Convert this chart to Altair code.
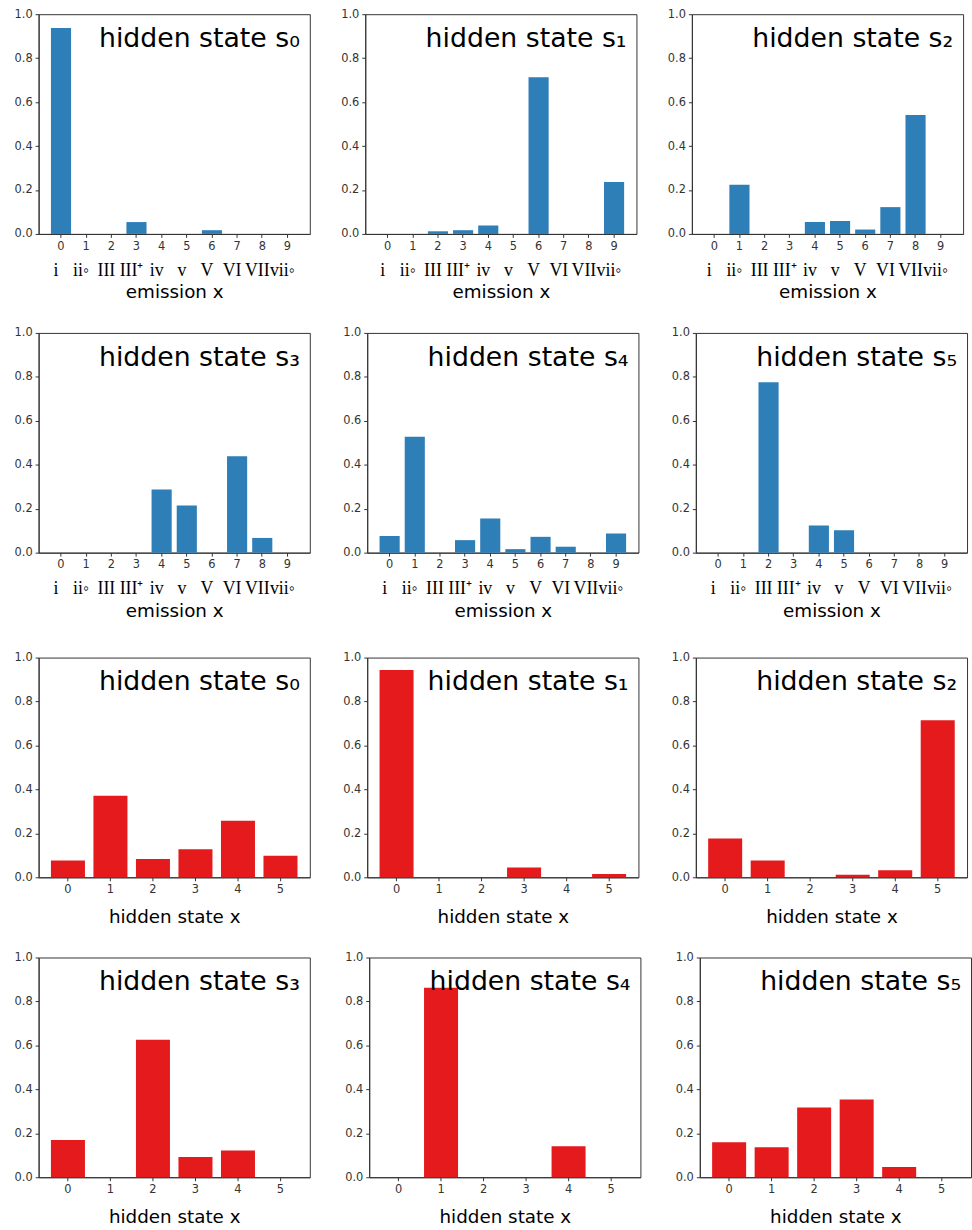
import altair as alt
import pandas as pd

# ---------------- data ----------------
EMISSION_CATS = list(range(10))
ROMAN = ["i", "ii◦", "III", "III⁺", "iv", "v", "V", "VI", "VII", "vii◦"]
STATE_CATS = list(range(6))
STATE_TITLES = ["hidden state s₀", "hidden state s₁", "hidden state s₂",
                "hidden state s₃", "hidden state s₄", "hidden state s₅"]

EMIT_S0 = [0.937, 0.0, 0.0, 0.054, 0.0, 0.0, 0.017, 0.0, 0.0, 0.0]
EMIT_S1 = [0.0, 0.0, 0.012, 0.017, 0.038, 0.0, 0.713, 0.0, 0.0, 0.236]
EMIT_S2 = [0.0, 0.224, 0.0, 0.0, 0.054, 0.059, 0.020, 0.122, 0.541, 0.0]
EMIT_S3 = [0.0, 0.0, 0.0, 0.0, 0.287, 0.215, 0.0, 0.439, 0.067, 0.0]
EMIT_S4 = [0.076, 0.528, 0.0, 0.057, 0.155, 0.016, 0.072, 0.027, 0.0, 0.087]
EMIT_S5 = [0.0, 0.0, 0.776, 0.0, 0.124, 0.102, 0.0, 0.0, 0.0, 0.0]

TRANS_S0 = [0.077, 0.371, 0.083, 0.128, 0.257, 0.098]
TRANS_S1 = [0.943, 0.0, 0.0, 0.045, 0.0, 0.015]
TRANS_S2 = [0.177, 0.077, 0.0, 0.012, 0.032, 0.715]
TRANS_S3 = [0.170, 0.0, 0.626, 0.092, 0.122, 0.0]
TRANS_S4 = [0.0, 0.862, 0.0, 0.0, 0.141, 0.0]
TRANS_S5 = [0.159, 0.137, 0.317, 0.354, 0.047, 0.0]

EMITS = [EMIT_S0, EMIT_S1, EMIT_S2, EMIT_S3, EMIT_S4, EMIT_S5]
TRANS = [TRANS_S0, TRANS_S1, TRANS_S2, TRANS_S3, TRANS_S4, TRANS_S5]

BLUE = "#2e7eb8"
RED = "#e41a1c"
W, H = 274, 222
SANS = "DejaVu Sans"
TICK_FONT = "DejaVu Sans"


def panel(values, cats, title, color, xtitle, extent, roman=None, pad_outer=0.49, title_pad=28):
    df = pd.DataFrame({"x": cats, "p": values})
    if roman is not None:
        df["r"] = roman
    x_enc = alt.X(
        "x:O",
        scale=alt.Scale(paddingInner=0.2, paddingOuter=pad_outer),
        axis=alt.Axis(title=xtitle, labelAngle=0, titlePadding=title_pad),
    )
    y_enc = alt.Y(
        "p:Q",
        scale=alt.Scale(domain=[0, 1], nice=False),
        axis=alt.Axis(values=[0, 0.2, 0.4, 0.6, 0.8, 1.0], format=".1f", title=None,
                      minExtent=extent, maxExtent=extent),
    )
    bars = alt.Chart(df).mark_bar(color=color).encode(x=x_enc, y=y_enc)
    layers = [bars]
    if roman is not None:
        rl = alt.Chart(df).mark_text(
            font="Liberation Serif", fontSize=18, baseline="alphabetic",
            align="center", dx=-5, color="black",
        ).encode(x=x_enc, y=alt.value(H + 42), text="r:N")
        layers.append(rl)
    tdf = pd.DataFrame({"t": [title]})
    tl = alt.Chart(tdf).mark_text(
        font=SANS, fontSize=27, align="right", baseline="alphabetic", color="black",
    ).encode(x=alt.value(W - 10), y=alt.value(33), text="t:N")
    layers.append(tl)
    return alt.layer(*layers).properties(width=W, height=H)


def row(kind, idxs, extent, spacing):
    charts = []
    for i in idxs:
        if kind == "emit":
            charts.append(panel(EMITS[i], EMISSION_CATS, STATE_TITLES[i], BLUE,
                                "emission x", extent, roman=ROMAN, pad_outer=0.49, title_pad=31))
        else:
            charts.append(panel(TRANS[i], STATE_CATS, STATE_TITLES[i], RED,
                                "hidden state x", extent, pad_outer=0.29, title_pad=13))
    return alt.hconcat(*charts, spacing=spacing)


r1 = row("emit", [0, 1, 2], 38, 16)
r2 = row("emit", [3, 4, 5], 38, 18)
r3 = row("trans", [0, 1, 2], 31, 25)
r4 = row("trans", [3, 4, 5], 23, 33)

top = alt.vconcat(r1, r2, spacing=25)
bottom = alt.vconcat(r3, r4, spacing=24)

chart = alt.vconcat(top, bottom, spacing=31).properties(
    padding={"left": 0, "top": 1, "right": 0, "bottom": 0},
    background="white",
).configure_view(
    stroke="#333333", strokeWidth=1,
).configure_axis(
    grid=False,
    domainColor="#333333",
    tickColor="#333333",
    tickSize=3.5,
    labelColor="#333333",
    labelFont=TICK_FONT,
    labelFontSize=11.5,
    labelPadding=3,
    titleFont=SANS,
    titleFontSize=18.5,
    titleFontWeight="normal",
    titleColor="black",
)

chart.save("out.html", embed_options={"renderer": "svg", "actions": False})
